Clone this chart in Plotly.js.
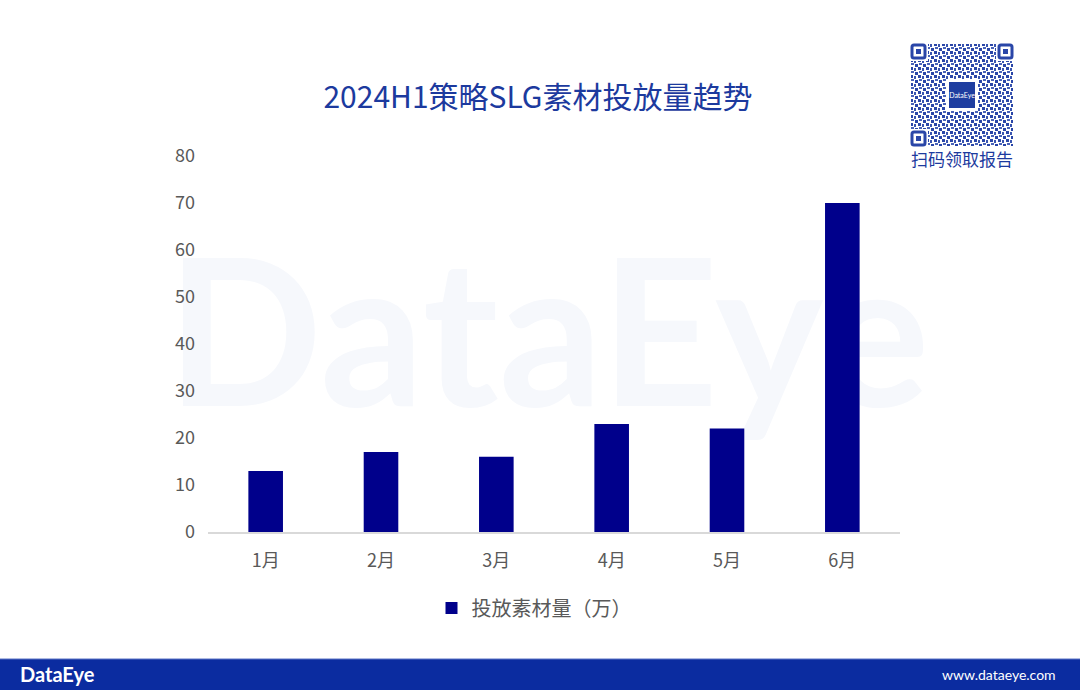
<!DOCTYPE html>
<html>
<head>
<meta charset="utf-8">
<script src="https://cdn.plot.ly/plotly-3.0.1.min.js"></script>
<style>
  html, body { margin: 0; padding: 0; background: #fff; }
  #chart { width: 1080px; height: 690px; }
</style>
</head>
<body>
<div id="chart"></div>
<script>
// data
var months = ["1月", "2月", "3月", "4月", "5月", "6月"];
var counts = [13, 17, 16, 23, 22, 70];
var seriesName = "投放素材量（万）";
var yTicks = [0, 10, 20, 30, 40, 50, 60, 70, 80];

// plot box in pixels, used to place decorations in paper coords
var L = 208, R = 900, T = 156, B = 532;
function px(x) { return (x - L) / (R - L); }
function py(y) { return (B - y) / (B - T); }

var cjk = '"Noto Sans CJK SC", "Noto Sans", sans-serif';
var blue = "#1c3a9e";

var bars = {
  type: "bar",
  x: months,
  y: counts,
  name: seriesName,
  marker: { color: "#00008b" },
  hoverinfo: "x+y"
};

// faint watermark behind the bars
var wm = '<svg xmlns="http://www.w3.org/2000/svg" width="760" height="200">' +
  '<text x="380" y="160" text-anchor="middle" font-family="Lato, sans-serif" font-weight="700" ' +
  'font-size="205" fill="#f6f8fc">DataEye</text></svg>';

// QR-looking badge (decoration only)
var qr = '<svg xmlns="http://www.w3.org/2000/svg" width="104" height="104" viewBox="0 0 104 104">' +
  '<defs><pattern id="p" width="8" height="8" patternUnits="userSpaceOnUse">' +
  '<rect x="0" y="0" width="3" height="3" fill="#2a46a8"/>' +
  '<rect x="4" y="1" width="2" height="3" fill="#3a55b0"/>' +
  '<rect x="1" y="4" width="3" height="2" fill="#4a63b8"/>' +
  '<rect x="5" y="5" width="3" height="3" fill="#2a46a8"/>' +
  '</pattern></defs>' +
  '<rect width="104" height="104" fill="#fff"/>' +
  '<rect x="1" y="1" width="102" height="102" fill="url(#p)"/>' +
  '<g fill="#fff"><rect x="0" y="0" width="18" height="18"/><rect x="86" y="0" width="18" height="18"/>' +
  '<rect x="0" y="86" width="18" height="18"/></g>' +
  '<g fill="none" stroke="#2a46a8" stroke-width="3">' +
  '<rect x="2" y="2" width="13" height="13" rx="2"/><rect x="89" y="2" width="13" height="13" rx="2"/>' +
  '<rect x="2" y="89" width="13" height="13" rx="2"/></g>' +
  '<g fill="#2a46a8"><rect x="6" y="6" width="5" height="5"/><rect x="93" y="6" width="5" height="5"/>' +
  '<rect x="6" y="93" width="5" height="5"/></g>' +
  '<rect x="36" y="36" width="32" height="32" fill="#fff"/>' +
  '<rect x="39" y="39" width="26" height="26" fill="#1f3ea0"/>' +
  '<text x="52" y="55" text-anchor="middle" font-family="Lato, sans-serif" font-size="7" fill="#fff">DataEye</text>' +
  '</svg>';

var shapes = [
  // bottom banner
  { type: "rect", xref: "paper", yref: "paper", x0: px(-10), x1: px(1090), y0: py(659), y1: py(700),
    fillcolor: "#0b2ca0", line: { width: 0 } },
  { type: "line", xref: "paper", yref: "paper", x0: px(0), x1: px(1080), y0: py(659), y1: py(659),
    line: { color: "#5a72c4", width: 1 } }
];

var annotations = [
  { text: "扫码领取报告", xref: "paper", yref: "paper", x: px(962), y: py(158),
    xanchor: "center", yanchor: "middle", showarrow: false,
    font: { family: cjk, size: 17, color: blue } },
  { text: "<b>DataEye</b>", xref: "paper", yref: "paper", x: px(18), y: py(674),
    xanchor: "left", yanchor: "middle", showarrow: false,
    font: { family: "Lato, sans-serif", size: 20, color: "#fff" } },
  { text: "www.dataeye.com", xref: "paper", yref: "paper", x: px(1058), y: py(674),
    xanchor: "right", yanchor: "middle", showarrow: false,
    font: { family: "Lato, sans-serif", size: 14, color: "#fff" } }
];

var layout = {
  width: 1080,
  height: 690,
  margin: { l: L, r: 1080 - R, t: T, b: 690 - B, pad: 0 },
  paper_bgcolor: "#fff",
  plot_bgcolor: "rgba(0,0,0,0)",
  title: {
    text: "2024H1策略SLG素材投放量趋势",
    font: { family: cjk, size: 30, color: blue },
    x: 538 / 1080, xref: "container", xanchor: "center",
    y: 1 - 97 / 690, yanchor: "middle"
  },
  bargap: 0.7,
  xaxis: {
    showgrid: false,
    showline: true,
    linecolor: "#d9d9d9",
    linewidth: 1.5,
    ticks: "",
    tickfont: { family: cjk, size: 18, color: "#595959" },
    ticklabelstandoff: 12,
    fixedrange: true
  },
  yaxis: {
    range: [0, 80],
    tickvals: yTicks,
    showgrid: false,
    zeroline: false,
    showline: false,
    ticks: "",
    tickfont: { family: cjk, size: 18, color: "#595959" },
    ticklabelstandoff: 12,
    fixedrange: true
  },
  showlegend: true,
  legend: {
    orientation: "h",
    x: px(534), y: py(608),
    xanchor: "center", yanchor: "middle",
    font: { family: cjk, size: 20, color: "#595959" }
  },
  images: [
    {
      source: "data:image/svg+xml;charset=utf-8," + encodeURIComponent(wm),
      xref: "paper", yref: "paper",
      x: px(168), y: py(246), sizex: 760 / (R - L), sizey: 200 / (B - T),
      xanchor: "left", yanchor: "top", layer: "below"
    },
    {
      source: "data:image/svg+xml;charset=utf-8," + encodeURIComponent(qr),
      xref: "paper", yref: "paper",
      x: px(910), y: py(43), sizex: 104 / (R - L), sizey: 104 / (B - T),
      xanchor: "left", yanchor: "top", layer: "above"
    }
  ],
  shapes: shapes,
  annotations: annotations
};

Plotly.newPlot("chart", [bars], layout, { displayModeBar: false, responsive: false });
</script>
</body>
</html>
